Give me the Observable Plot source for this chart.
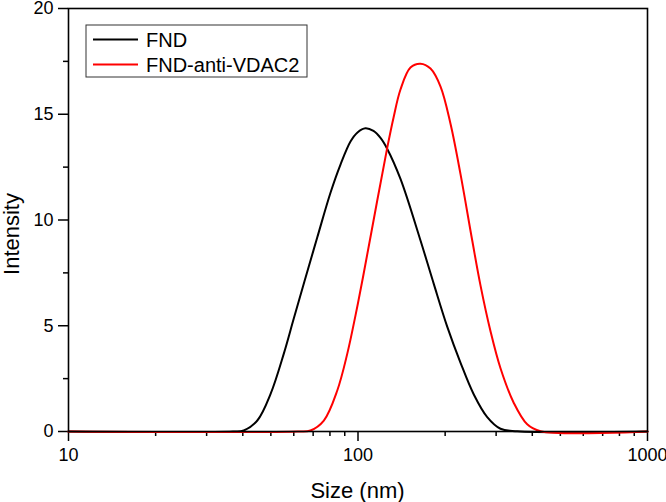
<!DOCTYPE html>
<html><head><meta charset="utf-8">
<script src="https://cdn.jsdelivr.net/npm/d3@7"></script>
<script src="https://cdn.jsdelivr.net/npm/@observablehq/plot@0.6"></script>
<style>html,body{margin:0;padding:0;background:#fff;} #chart{width:666px;height:502px;}</style>
</head><body><div id="chart"></div>
<script>
const seriesNames = ["FND", "FND-anti-VDAC2"];
const seriesColors = ["#000000", "#ff0000"];
const fndSize = [10, 37, 40.3, 44.9, 49.9, 55.4, 60.0, 65.3, 72.3, 80.4, 87.0, 94.2, 99.6, 106.1, 113.1, 119.6, 126.2, 140.2, 164.4, 182.7, 203.3, 225.9, 251.2, 279.5, 310.6, 354.8, 1000];
const fndIntensity = [0, 0, 0.05, 0.52, 1.78, 3.67, 5.34, 7.09, 9.17, 11.30, 12.62, 13.71, 14.14, 14.34, 14.21, 13.88, 13.36, 11.94, 9.03, 6.98, 4.96, 3.26, 1.75, 0.68, 0.13, 0.01, 0];
const vdacSize = [10, 62, 68.5, 76.2, 84.8, 91.8, 98.0, 104.2, 116.5, 126.2, 132.7, 140.2, 151.8, 164.4, 178.0, 192.8, 208.7, 225.9, 248.1, 264.9, 286.9, 310.6, 345.3, 384.1, 427.0, 1000];
const vdacIntensity = [0, 0, 0.05, 0.52, 1.94, 3.67, 5.48, 7.34, 10.91, 13.42, 14.85, 16.17, 17.21, 17.39, 17.16, 16.31, 14.55, 12.18, 9.03, 6.91, 4.74, 2.99, 1.35, 0.34, 0.01, 0];
const xMajorTicks = [10, 100, 1000];
const xMinorTicks = [20, 30, 40, 50, 60, 70, 80, 90, 200, 300, 400, 500, 600, 700, 800, 900];
const yMajorTicks = [0, 5, 10, 15, 20];
const yMinorTicks = [2.5, 7.5, 12.5, 17.5];
const xLabel = "Size (nm)";
const yLabel = "Intensity";

const rows = [
  ...fndSize.map((s, i) => ({series: seriesNames[0], size: s, intensity: fndIntensity[i]})),
  ...vdacSize.map((s, i) => ({series: seriesNames[1], size: s, intensity: vdacIntensity[i]}))
];

const font = "'Liberation Sans', Arial, Helvetica, sans-serif";
const svg = Plot.plot({
  width: 666, height: 502,
  marginLeft: 68, marginRight: 19, marginTop: 8, marginBottom: 71,
  style: {fontFamily: font, fontSize: "18px", color: "#000", background: "#fff", overflow: "visible"},
  x: {type: "log", domain: [10, 1000]},
  y: {domain: [0, 20]},
  color: {domain: seriesNames, range: seriesColors},
  marks: [
    Plot.axisX({ticks: xMinorTicks, tickSize: 5, tickFormat: () => "", label: null, strokeWidth: 1.5}),
    Plot.axisX({ticks: xMajorTicks, tickSize: 10, tickPadding: 7, tickFormat: d => String(d), label: null, strokeWidth: 1.5}),
    Plot.axisY({ticks: yMinorTicks, tickSize: 5, tickFormat: () => "", label: null, strokeWidth: 1.5}),
    Plot.axisY({ticks: yMajorTicks, tickSize: 10, tickPadding: 5, tickFormat: d => String(d), label: null, strokeWidth: 1.5}),
    Plot.line(rows, {x: "size", y: "intensity", stroke: "series", z: "series", curve: "catmull-rom", strokeWidth: 2}),
    Plot.frame({stroke: "#000", strokeWidth: 1.6})
  ]
});

const s = d3.select(svg);
// axis titles
s.append("text").attr("transform", "translate(19,234) rotate(-90)")
  .attr("text-anchor", "middle").attr("font-size", 22).attr("font-family", font)
  .attr("fill", "#000").text(yLabel);
s.append("text").attr("x", 357.5).attr("y", 498)
  .attr("text-anchor", "middle").attr("font-size", 22).attr("font-family", font)
  .attr("fill", "#000").text(xLabel);
// legend
const lg = s.append("g");
lg.append("rect").attr("x", 86).attr("y", 25).attr("width", 221).attr("height", 52)
  .attr("fill", "#fff").attr("stroke", "#333").attr("stroke-width", 1);
seriesNames.forEach((name, i) => {
  const yy = 39.5 + i * 25;
  lg.append("line").attr("x1", 93).attr("x2", 138).attr("y1", yy).attr("y2", yy)
    .attr("stroke", seriesColors[i]).attr("stroke-width", 2);
  lg.append("text").attr("x", 146).attr("y", yy + 7).attr("font-size", 20)
    .attr("text-anchor", "start")
    .attr("font-family", font).attr("fill", "#000").text(name);
});
document.getElementById("chart").appendChild(svg);
</script>
</body></html>
